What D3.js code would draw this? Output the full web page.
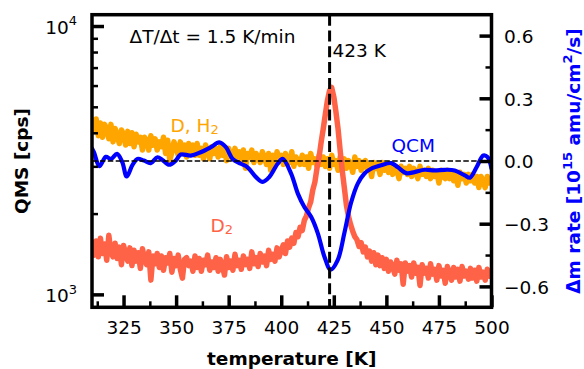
<!DOCTYPE html>
<html><head><meta charset="utf-8">
<script src="https://cdn.jsdelivr.net/npm/d3@7"></script>
<style>html,body{margin:0;padding:0;background:#fff;} svg{display:block;font-family:"DejaVu Sans",sans-serif;}</style>
</head><body><svg id="c" width="584" height="369"></svg>
<script>
// ---------------- data ----------------
const tempStart = 310;   // K, first sample of the QMS traces
const tempStep = 1;      // K between QMS samples
// QMS D, H2 signal [cps]
const dh2 = [
 4550,4050,4500,3900,4350,3850,4300,4150,3800,4300,
 3700,4150,3900,3650,4100,3950,3600,4050,3650,4000,
 3550,3950,3700,3850,3450,3850,3750,3450,3900,3600,
 3800,3450,3700,3550,3850,3350,3750,3150,3400,3700,
 3500,3300,3700,3450,3600,3250,3650,3400,3600,3300,
 3650,3300,3500,3200,3600,3450,3200,3550,3350,3500,
 3250,3550,3300,3450,3150,3500,3300,3200,3500,3250,
 3400,3150,3450,2950,3350,3250,3450,3100,3350,3250,
 3100,3400,3250,3050,3350,2900,3300,3000,3400,3150,
 3300,3050,3350,3150,3100,3400,3000,3250,3150,3050,
 3300,3050,3250,2950,3350,3100,3200,3000,3300,3050,
 3250,3000,3200,2950,3300,3050,3150,2900,3250,3000,
 3200,2950,3150,3050,2850,3250,3000,3150,2900,3100,
 3150,2900,3050,2750,3100,2950,3050,2800,3100,2900,
 3000,2850,3050,2800,3000,2900,2700,3000,2850,2950,
 2800,3000,2750,2950,2850,2700,3000,2800,2900,2750,
 2950,2700,2900,2750,2850,2600,2900,2750,2700,2900,
 2700,2850,2650,2800,2550,2850,2700,2800,2600,2800,
 2650,2800,2600,2750,2500,2750,2650,2500,2750,2600,2700
];
// QMS D2 signal [cps]
const d2 = [
 1600,1400,1580,1380,1620,1420,1540,1340,1660,1440,
 1380,1550,1360,1500,1290,1520,1420,1330,1490,1280,
 1460,1330,1430,1250,1480,1350,1290,1440,1130,1390,
 1300,1420,1260,1390,1230,1370,1310,1420,1210,1360,
 1280,1400,1240,1150,1350,1370,1280,1330,1220,1390,
 1260,1360,1220,1340,1290,1400,1230,1320,1260,1370,
 1220,1350,1280,1180,1380,1260,1330,1230,1410,1280,
 1340,1240,1390,1290,1350,1250,1440,1300,1370,1270,
 1420,1320,1390,1280,1460,1350,1410,1330,1490,1380,
 1460,1530,1420,1580,1500,1620,1550,1700,1640,1780,
 1730,1890,1960,2100,2210,2450,2620,2950,3250,3700,
 4150,4700,5300,5750,5900,5450,4800,4150,3450,2900,
 2500,2150,1950,1820,1720,1640,1600,1510,1560,1440,
 1500,1380,1450,1330,1430,1290,1400,1280,1370,1250,
 1350,1220,1320,1270,1190,1340,1230,1300,1090,1310,
 1220,1280,1160,1310,1200,1260,1080,1290,1200,1250,
 1150,1300,1190,1240,1130,1280,1170,1230,1100,1270,
 1200,1130,1260,1160,1240,1120,1270,1170,1220,1140,
 1250,1150,1230,1120,1260,1160,1210,1130,1240,1170,1220
];
// QCM mass-change rate [1e15 amu/cm2/s]
const qcmT = [310,311,313.5,316.6,319,321.9,324.4,326.5,329.2,331.6,334.7,337.9,341.1,343.5,346.7,349.8,352.2,357,361.7,366.5,370.5,373.7,376.9,380.8,384,388,391.2,394.3,398.3,400.7,404.7,407.9,411,414.2,417.4,420.5,423.5,426.9,430,433.2,436.4,439.6,442.7,447.5,452.3,455.5,459.4,463.4,468.2,473,477.8,482.5,487.3,489.7,492.9,496.1,498.2,500];
const qcmRate = [0.06,0.04,-0.025,0.02,0.01,0.034,-0.005,-0.074,-0.02,0.01,0.002,-0.01,0.018,0.005,-0.018,0.002,0.031,0.026,0.042,0.066,0.089,0.066,0.01,-0.013,-0.03,-0.077,-0.1,-0.077,-0.013,0.01,-0.06,-0.156,-0.22,-0.267,-0.346,-0.457,-0.52,-0.473,-0.346,-0.2,-0.108,-0.06,-0.037,-0.02,-0.01,-0.03,-0.058,-0.053,-0.042,-0.045,-0.042,-0.045,-0.069,-0.08,-0.03,0.026,0.018,-0.036];

const xMajorTicks = [325,350,375,400,425,450,475,500];
const xMinorTicks = [312.5,337.5,362.5,387.5,412.5,437.5,462.5,487.5];
const yLeftMajor = [1000,10000];
const yLeftLabels = [["10","3"],["10","4"]];
const yLeftMinor = [2000,3000,4000,5000,6000,7000,8000,9000];
const yRightMajor = [-0.6,-0.3,0,0.3,0.6];
const yRightMinor = [-0.45,-0.15,0.15,0.45];
const peakT = 423;
const rampText = "ΔT/Δt = 1.5 K/min";
const peakText = "423 K";

// ---------------- layout ----------------
const L = 92, R = 491.5, T = 14.7, B = 307.3;
const FS = 18.5, FSS = 13;
const cOrange = "#FFA500", cTomato = "#FF6347", cBlue = "#0000FF";

const svg = d3.select("#c");
const x = d3.scaleLinear().domain([310, 500]).range([L, R]);
const yL = d3.scaleLog().domain([895, 11020]).range([B, T]);
const yR = d3.scaleLinear().domain([-0.7, 0.7]).range([B, T]);

svg.append("defs").append("clipPath").attr("id","clip")
  .append("rect").attr("x",L).attr("y",T).attr("width",R-L).attr("height",B-T);

const temps = dh2.map((_, i) => tempStart + i * tempStep);
const plot = svg.append("g").attr("clip-path","url(#clip)");

const lineL = d3.line().x(d => x(d[0])).y(d => yL(d[1]));
plot.append("path").datum(temps.map((t,i)=>[t,dh2[i]]))
  .attr("d", lineL).attr("fill","none").attr("stroke",cOrange)
  .attr("stroke-width",5.5).attr("stroke-linejoin","round");
plot.append("path").datum(temps.map((t,i)=>[t,d2[i]]))
  .attr("d", lineL).attr("fill","none").attr("stroke",cTomato)
  .attr("stroke-width",5.5).attr("stroke-linejoin","round");
const lineR = d3.line().x(d => x(d[0])).y(d => yR(d[1])).curve(d3.curveCatmullRom.alpha(0.5));
plot.append("path").datum(qcmT.map((t,i)=>[t,qcmRate[i]]))
  .attr("d", lineR).attr("fill","none").attr("stroke",cBlue)
  .attr("stroke-width",4.2).attr("stroke-linejoin","round").attr("stroke-linecap","round");

// reference lines
plot.append("line").attr("x1",L).attr("x2",R).attr("y1",yR(0)).attr("y2",yR(0))
  .attr("stroke","#000").attr("stroke-width",1.5).attr("stroke-dasharray","5.5,2.4");
plot.append("line").attr("x1",x(peakT)).attr("x2",x(peakT)).attr("y1",T).attr("y2",B)
  .attr("stroke","#000").attr("stroke-width",3).attr("stroke-dasharray","11,4.8");

// ---------------- axes ----------------
function styleAxis(g, w){
  g.select(".domain").remove();
  g.selectAll(".tick line").attr("stroke","#000").attr("stroke-width",w);
  g.selectAll("text").attr("font-size",FS).attr("font-family","DejaVu Sans").attr("fill","#000");
}
const gxb = svg.append("g").attr("transform",`translate(0,${B})`)
  .call(d3.axisBottom(x).tickValues(xMajorTicks).tickSize(-12).tickPadding(13.6).tickFormat(d3.format("d")));
styleAxis(gxb,3.5);
const gxm = svg.append("g").attr("transform",`translate(0,${B})`)
  .call(d3.axisBottom(x).tickValues(xMinorTicks).tickSize(-6).tickFormat(""));
styleAxis(gxm,2.5);

const gyl = svg.append("g").attr("transform",`translate(${L},0)`)
  .call(d3.axisLeft(yL).tickValues(yLeftMajor).tickSize(-12).tickPadding(15).tickFormat(()=>""));
styleAxis(gyl,3.5);
gyl.selectAll(".tick text").each(function(d,i){
  const t = d3.select(this).attr("dy","0.39em");
  const lab = yLeftLabels[yLeftMajor.indexOf(d)];
  t.append("tspan").text(lab[0]);
  t.append("tspan").attr("font-size",FSS).attr("dy",-8.3).text(lab[1]);
});
const gylm = svg.append("g").attr("transform",`translate(${L},0)`)
  .call(d3.axisLeft(yL).tickValues(yLeftMinor).tickSize(-6).tickFormat(()=>""));
styleAxis(gylm,2.5);

const gyr = svg.append("g").attr("transform",`translate(${R},0)`)
  .call(d3.axisRight(yR).tickValues(yRightMajor).tickSize(-12).tickPadding(12.5).tickFormat(d3.format(".1f")));
styleAxis(gyr,3.5);
gyr.selectAll(".tick text").attr("dy","0.37em");
const gyrm = svg.append("g").attr("transform",`translate(${R},0)`)
  .call(d3.axisRight(yR).tickValues(yRightMinor).tickSize(-6).tickFormat(""));
styleAxis(gyrm,2.5);

// frame
svg.append("rect").attr("x",L).attr("y",T).attr("width",R-L).attr("height",B-T)
  .attr("fill","none").attr("stroke","#000").attr("stroke-width",3.5);

// ---------------- titles ----------------
svg.append("text").attr("x",(L+R)/2).attr("y",365).attr("text-anchor","middle")
  .attr("font-size",FS).attr("font-weight","bold").text("temperature [K]");
svg.append("text").attr("transform",`translate(28,${(T+B)/2}) rotate(-90)`).attr("text-anchor","middle")
  .attr("font-size",FS).attr("font-weight","bold").text("QMS [cps]");
const rt = svg.append("text").attr("transform",`translate(580,${(T+B)/2}) rotate(-90)`).attr("text-anchor","middle")
  .attr("font-size",FS).attr("font-weight","bold").attr("fill",cBlue);
rt.append("tspan").text("Δm rate [10");
rt.append("tspan").attr("font-size",FSS).attr("dy",-8).text("15");
rt.append("tspan").attr("dy",8).text(" amu/cm");
rt.append("tspan").attr("font-size",FSS).attr("dy",-8).text("2");
rt.append("tspan").attr("dy",8).text("/s]");

// ---------------- annotations ----------------
svg.append("text").attr("x",129.5).attr("y",43.3).attr("font-size",FS).text(rampText);
svg.append("text").attr("x",332.5).attr("y",57.3).attr("font-size",FS).text(peakText);
const a1 = svg.append("text").attr("x",170.5).attr("y",131.7).attr("font-size",FS).attr("fill",cOrange);
a1.append("tspan").text("D, H");
a1.append("tspan").attr("font-size",FSS).attr("dy",2.6).text("2");
svg.append("text").attr("x",391.5).attr("y",152.3).attr("font-size",FS).attr("fill",cBlue).text("QCM");
const a2 = svg.append("text").attr("x",210.5).attr("y",231.7).attr("font-size",FS).attr("fill",cTomato);
a2.append("tspan").text("D");
a2.append("tspan").attr("font-size",FSS).attr("dy",2.6).text("2");
</script></body></html>
